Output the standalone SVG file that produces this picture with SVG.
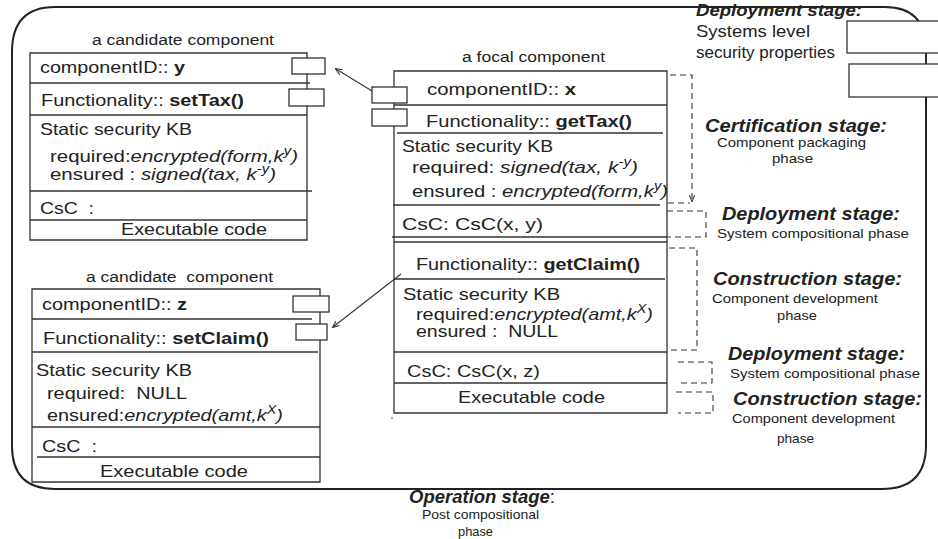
<svg xmlns="http://www.w3.org/2000/svg" width="938" height="539" viewBox="0 0 938 539">
<style>
text { font-family: "Liberation Sans", Arial, sans-serif; fill: #222; }
.t { font-size: 16.5px; }
.ti { font-size: 15.5px; }
.b { font-weight: bold; }
.i { font-style: italic; }
.s { font-size: 12px; }
.st { font-size: 18px; font-weight: bold; font-style: italic; }
.ph { font-size: 13px; }
.ln { stroke: #333; stroke-width: 1.3; fill: none; }
.port { fill: #fff; stroke: #333; stroke-width: 1.3; }
.dash { stroke: #333; stroke-width: 1.1; stroke-dasharray: 6 4; fill: none; }
.con { stroke: #333; stroke-width: 1.1; fill: none; }
.frame { stroke: #222; stroke-width: 2; fill: none; }
</style>
<defs>
<marker id="ah" viewBox="0 0 8 8" refX="7" refY="4" markerWidth="7" markerHeight="7" orient="auto" markerUnits="userSpaceOnUse">
<path d="M0,0.8 L8,4 L0,7.2" fill="none" stroke="#333" stroke-width="1.2"/>
</marker>
</defs>
<rect width="938" height="539" fill="#fff"/>

<g id="system-frame">
<path class="frame" d="M55,7 H885 Q926,7 926,50 V445 Q926,489 882,489 H55 Q12,489 12,446 V52 Q12,7 55,7 Z"/>
<line class="ln" x1="926" y1="53" x2="926" y2="64"/>
<rect class="port" x="847" y="21" width="100" height="32"/>
<rect class="port" x="849" y="64" width="100" height="33"/>
</g>

<g id="candidate-y">
<text class="ti" x="92" y="45" textLength="182" lengthAdjust="spacingAndGlyphs">a candidate component</text>
<path class="ln" d="M30,53 H307 V240 H30 Z"/>
<line class="ln" x1="30" y1="83" x2="310" y2="83"/>
<line class="ln" x1="30" y1="115" x2="307" y2="115"/>
<line class="ln" x1="30" y1="191" x2="312" y2="191"/>
<line class="ln" x1="30" y1="220" x2="307" y2="220"/>
<rect class="port" x="292" y="58" width="33" height="16"/>
<rect class="port" x="289" y="89" width="35" height="17"/>
<text class="t" x="40" y="73" textLength="145" lengthAdjust="spacingAndGlyphs">componentID:: <tspan class="b">y</tspan></text>
<text class="t" x="41" y="106" textLength="203" lengthAdjust="spacingAndGlyphs">Functionality:: <tspan class="b">setTax()</tspan></text>
<text class="t" x="40" y="135" textLength="152" lengthAdjust="spacingAndGlyphs">Static security KB</text>
<text class="t" x="50" y="162" textLength="248" lengthAdjust="spacingAndGlyphs">required:<tspan class="i">encrypted(form,k</tspan><tspan class="i s" dy="-7">y</tspan><tspan class="i" dy="7">)</tspan></text>
<text class="t" x="50" y="180" textLength="226" lengthAdjust="spacingAndGlyphs">ensured : <tspan class="i">signed(tax, k</tspan><tspan class="i s" dy="-7">-y</tspan><tspan class="i" dy="7">)</tspan></text>
<text class="t" x="40" y="214" textLength="54" lengthAdjust="spacingAndGlyphs" xml:space="preserve">CsC  :</text>
<text class="t" x="121" y="235" textLength="146" lengthAdjust="spacingAndGlyphs">Executable code</text>
</g>

<g id="candidate-z">
<text class="ti" x="86" y="282" textLength="187" lengthAdjust="spacingAndGlyphs" xml:space="preserve">a candidate  component</text>
<path class="ln" d="M32,289 H320 V482 H32 Z"/>
<line class="ln" x1="32" y1="319" x2="312" y2="319"/>
<line class="ln" x1="32" y1="352" x2="318" y2="352"/>
<line class="ln" x1="32" y1="427" x2="320" y2="427"/>
<line class="ln" x1="37" y1="457" x2="320" y2="457"/>
<rect class="port" x="293" y="296" width="36" height="16"/>
<rect class="port" x="296" y="324" width="31" height="16"/>
<text class="t" x="42" y="310" textLength="145" lengthAdjust="spacingAndGlyphs">componentID:: <tspan class="b">z</tspan></text>
<text class="t" x="43" y="344" textLength="226" lengthAdjust="spacingAndGlyphs">Functionality:: <tspan class="b">setClaim()</tspan></text>
<text class="t" x="36" y="376" textLength="156" lengthAdjust="spacingAndGlyphs">Static security KB</text>
<text class="t" x="47" y="399" textLength="140" lengthAdjust="spacingAndGlyphs" xml:space="preserve">required:  NULL</text>
<text class="t" x="47" y="421" textLength="236" lengthAdjust="spacingAndGlyphs">ensured:<tspan class="i">encrypted(amt,k</tspan><tspan class="i s" dy="-7">X</tspan><tspan class="i" dy="7">)</tspan></text>
<text class="t" x="42" y="452" textLength="55" lengthAdjust="spacingAndGlyphs" xml:space="preserve">CsC  :</text>
<text class="t" x="100" y="477" textLength="148" lengthAdjust="spacingAndGlyphs">Executable code</text>
</g>

<g id="focal-x">
<text class="ti" x="462" y="62" textLength="143" lengthAdjust="spacingAndGlyphs">a focal component</text>
<path class="ln" d="M394,71 H667 V413 H394 Z"/>
<line class="ln" x1="394" y1="105" x2="667" y2="105"/>
<line class="ln" x1="397" y1="133" x2="663" y2="133"/>
<line class="ln" x1="393" y1="205" x2="660" y2="205"/>
<line class="ln" x1="392" y1="237" x2="667" y2="237"/>
<line class="ln" x1="394" y1="242" x2="667" y2="242"/>
<line class="ln" x1="394" y1="279" x2="665" y2="279"/>
<line class="ln" x1="394" y1="352" x2="667" y2="352"/>
<line class="ln" x1="394" y1="383" x2="667" y2="383"/>
<rect class="port" x="372" y="87" width="35" height="16"/>
<rect class="port" x="372" y="109" width="35" height="17"/>
<circle cx="392" cy="418" r="0.8" fill="#333"/>
<text class="t" x="427" y="95" textLength="149" lengthAdjust="spacingAndGlyphs">componentID:: <tspan class="b">x</tspan></text>
<text class="t" x="426" y="127" textLength="206" lengthAdjust="spacingAndGlyphs">Functionality:: <tspan class="b">getTax()</tspan></text>
<text class="t" x="402" y="152" textLength="151" lengthAdjust="spacingAndGlyphs">Static security KB</text>
<text class="t" x="412" y="173" textLength="226" lengthAdjust="spacingAndGlyphs">required: <tspan class="i">signed(tax, k</tspan><tspan class="i s" dy="-7">-y</tspan><tspan class="i" dy="7">)</tspan></text>
<text class="t" x="412" y="197" textLength="256" lengthAdjust="spacingAndGlyphs">ensured : <tspan class="i">encrypted(form,k</tspan><tspan class="i s" dy="-7">y</tspan><tspan class="i" dy="7">)</tspan></text>
<text class="t" x="402" y="230" textLength="141" lengthAdjust="spacingAndGlyphs">CsC: CsC(x, y)</text>
<text class="t" x="416" y="270" textLength="224" lengthAdjust="spacingAndGlyphs">Functionality:: <tspan class="b">getClaim()</tspan></text>
<text class="t" x="403" y="300" textLength="157" lengthAdjust="spacingAndGlyphs">Static security KB</text>
<text class="t" x="416" y="320" textLength="237" lengthAdjust="spacingAndGlyphs">required:<tspan class="i">encrypted(amt,k</tspan><tspan class="i s" dy="-7">X</tspan><tspan class="i" dy="7">)</tspan></text>
<text class="t" x="416" y="337" textLength="142" lengthAdjust="spacingAndGlyphs" xml:space="preserve">ensured :  NULL</text>
<text class="t" x="407" y="377" textLength="133" lengthAdjust="spacingAndGlyphs">CsC: CsC(x, z)</text>
<text class="t" x="458" y="403" textLength="147" lengthAdjust="spacingAndGlyphs">Executable code</text>
</g>

<g id="connectors">
<line class="con" x1="372" y1="91" x2="336" y2="69" marker-end="url(#ah)"/>
<line class="con" x1="401" y1="274" x2="333" y2="327" marker-end="url(#ah)"/>
<path class="dash" d="M670,75 H692 V201" marker-end="url(#ah)"/>
<path class="dash" d="M668,203 H690"/>
<path class="dash" d="M667,211 H706 V237 H667"/>
<path class="dash" d="M669,248 H697 V350 H667"/>
<path class="dash" d="M678,362 H712 V383 H678"/>
<path class="dash" d="M676,392 H713 V413 H678"/>
</g>

<g id="stage-labels">
<text class="st" x="696" y="16" style="font-size:17px" textLength="166" lengthAdjust="spacingAndGlyphs">Deployment stage:</text>
<text class="t" x="696" y="37" textLength="114" lengthAdjust="spacingAndGlyphs">Systems level</text>
<text class="t" x="696" y="58" textLength="139" lengthAdjust="spacingAndGlyphs">security properties</text>
<text class="st" x="705" y="132" textLength="182" lengthAdjust="spacingAndGlyphs">Certification stage:</text>
<text class="ph" x="717" y="147" textLength="149" lengthAdjust="spacingAndGlyphs">Component packaging</text>
<text class="ph" x="772" y="163" textLength="41" lengthAdjust="spacingAndGlyphs">phase</text>
<text class="st" x="722" y="220" textLength="178" lengthAdjust="spacingAndGlyphs">Deployment stage:</text>
<text class="ph" x="717" y="238" textLength="192" lengthAdjust="spacingAndGlyphs">System compositional phase</text>
<text class="st" x="713" y="285" textLength="189" lengthAdjust="spacingAndGlyphs">Construction stage:</text>
<text class="ph" x="712" y="303" textLength="166" lengthAdjust="spacingAndGlyphs">Component development</text>
<text class="ph" x="777" y="320" textLength="40" lengthAdjust="spacingAndGlyphs">phase</text>
<text class="st" x="728" y="360" textLength="177" lengthAdjust="spacingAndGlyphs">Deployment stage:</text>
<text class="ph" x="730" y="378" textLength="190" lengthAdjust="spacingAndGlyphs">System compositional phase</text>
<text class="st" x="733" y="405" textLength="189" lengthAdjust="spacingAndGlyphs">Construction stage:</text>
<text class="ph" x="732" y="423" textLength="163" lengthAdjust="spacingAndGlyphs">Component development</text>
<text class="ph" x="777" y="443" textLength="37" lengthAdjust="spacingAndGlyphs">phase</text>
<text class="st" x="409" y="503" textLength="146" lengthAdjust="spacingAndGlyphs">Operation stage<tspan style="font-weight:normal;font-style:normal">:</tspan></text>
<text class="ph" x="422" y="519" textLength="117" lengthAdjust="spacingAndGlyphs">Post compositional</text>
<text class="ph" x="458" y="536" textLength="35" lengthAdjust="spacingAndGlyphs">phase</text>
</g>
</svg>
